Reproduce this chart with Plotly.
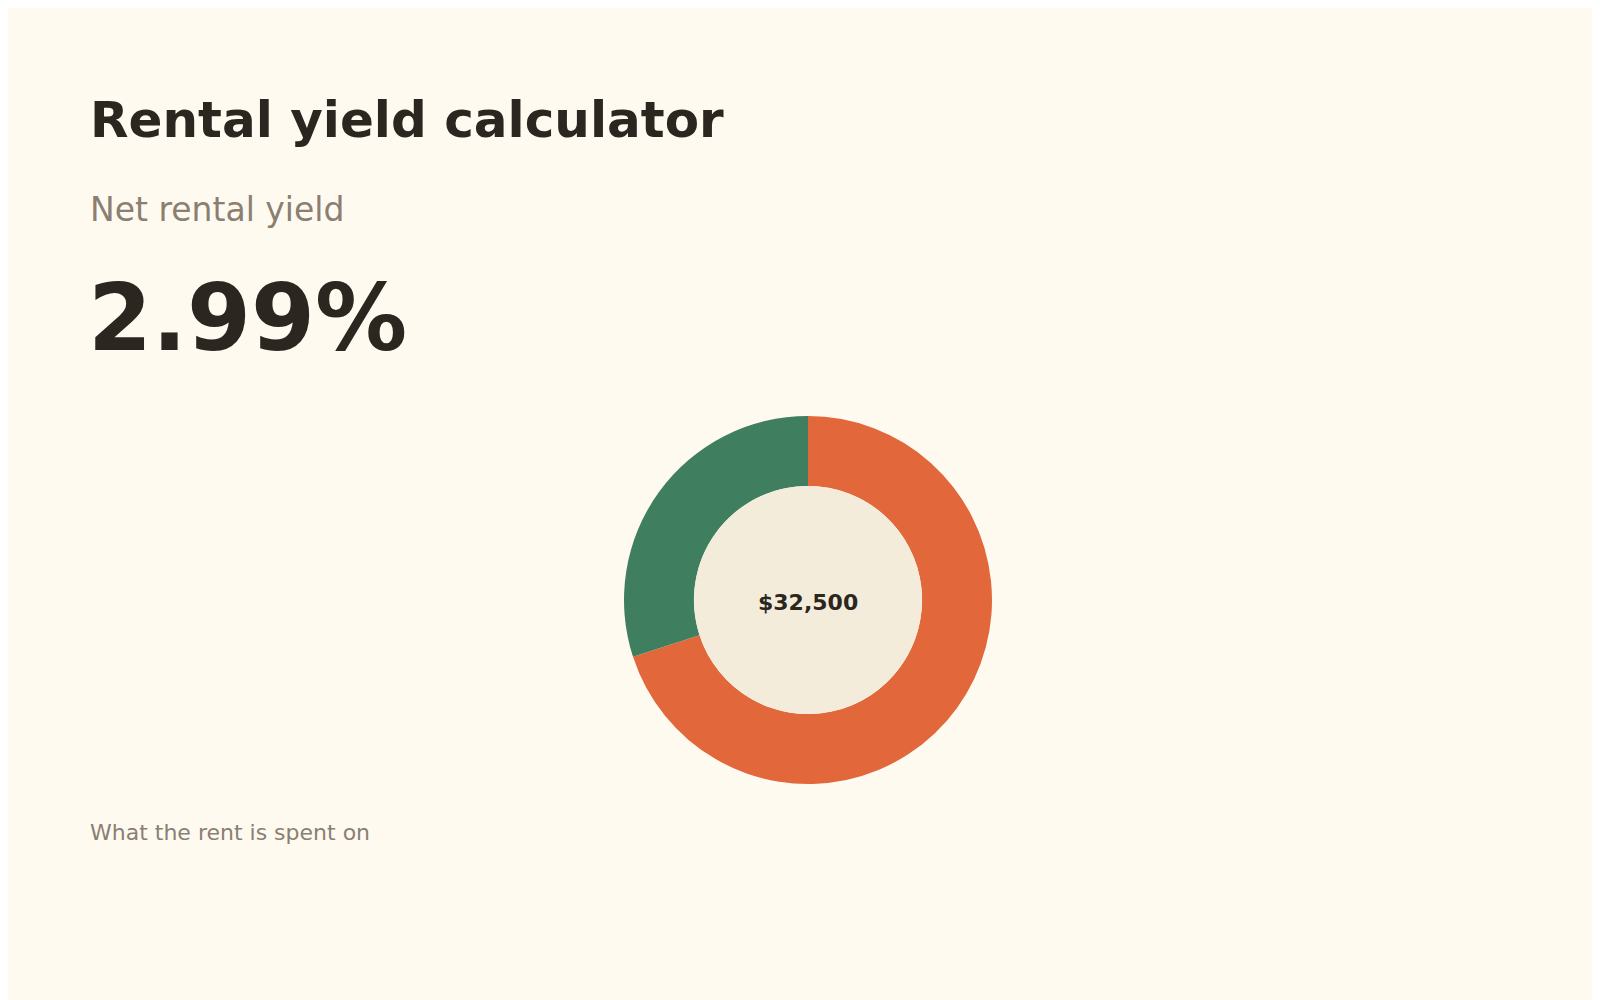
import plotly.graph_objects as go

labels = ["Costs", "Net income"]
values = [22750, 9750]
colours = ["#E2683C", "#3F7F5F"]
total_label = "$32,500"
yield_label = "2.99%"

fig = go.Figure()
fig.add_trace(go.Pie(
    labels=labels, values=values, hole=0.62, sort=False, direction="clockwise",
    rotation=0, marker=dict(colors=colours), textinfo="none",
    domain=dict(x=[0.385, 0.615], y=[0.224, 0.592]), showlegend=False,
))
fig.add_trace(go.Pie(
    labels=["total"], values=[1], marker=dict(colors=["#F4ECDB"]), textinfo="none",
    hoverinfo="skip", domain=dict(x=[0.4285, 0.5715], y=[0.294, 0.522]), showlegend=False,
))

dark = "#2B2720"
grey = "#8A7F72"
font = "DejaVu Sans"
fig.add_annotation(text="<b>Rental yield calculator</b>", x=80/1600, y=1-112/1000, xref="paper", yref="paper",
                   xanchor="left", yanchor="middle", showarrow=False, font=dict(size=50, color=dark, family=font))
fig.add_annotation(text="Net rental yield", x=80/1600, y=1-202/1000, xref="paper", yref="paper",
                   xanchor="left", yanchor="middle", showarrow=False, font=dict(size=33, color=grey, family=font))
fig.add_annotation(text="<b>" + yield_label + "</b>", x=78/1600, y=1-310/1000, xref="paper", yref="paper",
                   xanchor="left", yanchor="middle", showarrow=False, font=dict(size=92, color=dark, family=font))
fig.add_annotation(text="What the rent is spent on", x=80/1600, y=1-824/1000, xref="paper", yref="paper",
                   xanchor="left", yanchor="middle", showarrow=False, font=dict(size=22, color=grey, family=font))
fig.add_annotation(text="<b>" + total_label + "</b>", x=0.5, y=1-594/1000, xref="paper", yref="paper",
                   showarrow=False, font=dict(size=22, color=dark, family=font))

fig.update_layout(width=1600, height=1000, margin=dict(l=0, r=0, t=0, b=0),
                  paper_bgcolor="#FEFAF0", plot_bgcolor="#FEFAF0")
fig.write_html("out.html")
